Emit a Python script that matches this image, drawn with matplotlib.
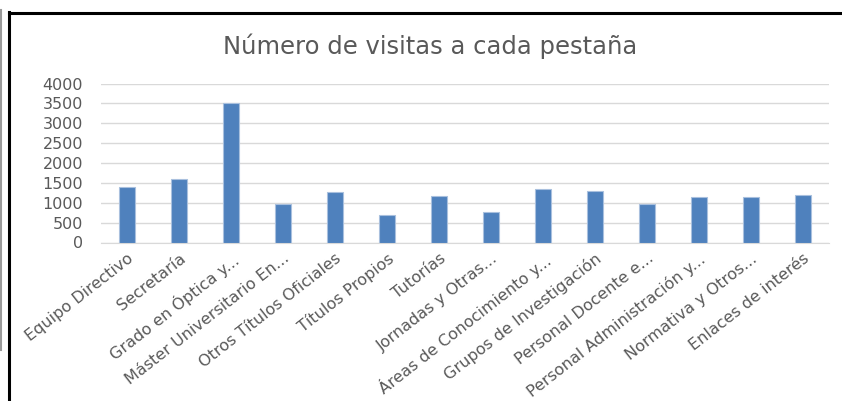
import matplotlib
matplotlib.use("Agg")
import matplotlib.pyplot as plt
from matplotlib.lines import Line2D

# Datos: visitas por pestaña
pestanas = [
    "Equipo Directivo", "Secretaría", "Grado en Óptica y...",
    "Máster Universitario En...", "Otros Títulos Oficiales", "Títulos Propios",
    "Tutorías", "Jornadas y Otras...", "Áreas de Conocimiento y...",
    "Grupos de Investigación", "Personal Docente e...",
    "Personal Administración y...", "Normativa y Otros...", "Enlaces de interés",
]
visitas = [1400, 1600, 3500, 975, 1270, 680, 1160, 755, 1340, 1290, 975, 1135, 1135, 1200]
y_ticks = [0, 500, 1000, 1500, 2000, 2500, 3000, 3500, 4000]

W, H = 842, 401
gris = "#595959"

fig = plt.figure(figsize=(W / 100, H / 100), dpi=100)
fig.patch.set_facecolor("white")

ax = fig.add_axes([101 / W, 1 - 242.5 / H, 728 / W, 159 / H])
x = list(range(len(pestanas)))
ax.bar(x, visitas, width=0.31, color="#4f81bd", edgecolor="#a9c0de", linewidth=0.8, zorder=3)

ax.set_xlim(-0.5, len(pestanas) - 0.5)
ax.set_ylim(0, 4000)
ax.set_yticks(y_ticks)
ax.set_yticklabels([str(v) for v in y_ticks])
ax.grid(axis="y", color="#d9d9d9", linewidth=1.0, zorder=0)
for s in ["top", "right", "left"]:
    ax.spines[s].set_visible(False)
ax.spines["bottom"].set_color("#d9d9d9")
ax.tick_params(axis="both", length=0, colors=gris, labelsize=11.5)
ax.tick_params(axis="y", pad=13)

ax.set_xticks(x)
ax.set_xticklabels(pestanas, rotation=38, ha="right", va="top",
                   rotation_mode="anchor", fontsize=11.5, color=gris)
ax.tick_params(axis="x", pad=6)

fig.text(430 / W, 1 - 46 / H, "Número de visitas a cada pestaña",
         ha="center", va="center", fontsize=17.5, color=gris)

# marco
fig.add_artist(Line2D([8.5 / W, 8.5 / W], [0, 1 - 12 / H], color="black", linewidth=2.2))
fig.add_artist(Line2D([8.5 / W, 1], [1 - 12.5 / H, 1 - 12.5 / H], color="black", linewidth=2.2))
fig.add_artist(Line2D([1 / W, 1 / W], [1 - 350 / H, 1 - 10 / H], color="#9a9a9a", linewidth=1.5))

fig.savefig("out.png", dpi=100)
